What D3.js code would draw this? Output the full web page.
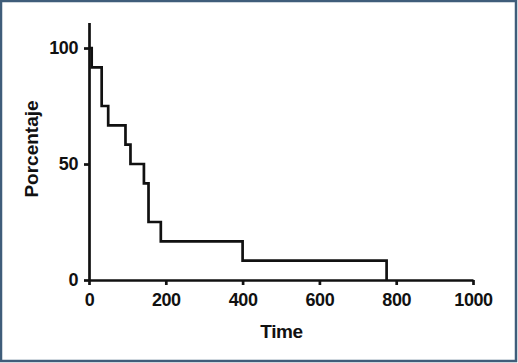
<!DOCTYPE html>
<html>

<head>
    <meta charset="utf-8">
    <script src="https://d3js.org/d3.v7.min.js"></script>
    <style>
        body { margin: 0; background: #fff; }
        svg text {
            font-family: "Liberation Sans", Arial, sans-serif;
            font-weight: bold;
            fill: #111;
        }
    </style>
</head>

<body>
    <div id="chart"></div>
    <script>
        // survival steps
        const times = [0, 7, 33, 50, 95, 108, 143, 155, 187, 400, 775];
        const percent = [100, 91.67, 75, 66.67, 58.33, 50, 41.67, 25, 16.67, 8.33, 0];
        const xTicks = [0, 200, 400, 600, 800, 1000];
        const yTicks = [0, 50, 100];

        const W = 518, H = 363;

        const svg = d3.select("#chart")
            .append("svg")
            .attr("width", W)
            .attr("height", H);

        // frame
        svg.append("rect")
            .attr("x", 1).attr("y", 1)
            .attr("width", W - 3).attr("height", H - 3)
            .attr("fill", "#fff")
            .attr("stroke", "#3f5d7a")
            .attr("stroke-width", 2.5);

        const x = d3.scaleLinear().domain([0, 1000]).range([89, 473]);
        const y = d3.scaleLinear().domain([0, 111]).range([280, 22.5]);

        // X axis
        const gx = svg.append("g")
            .attr("transform", `translate(0, ${y(0)})`)
            .call(d3.axisBottom(x).tickValues(xTicks).tickFormat(d3.format("d"))
                .tickSize(5).tickSizeOuter(0).tickPadding(8));

        // Y axis
        const gy = svg.append("g")
            .attr("transform", `translate(${x(0)}, 0)`)
            .call(d3.axisLeft(y).tickValues(yTicks).tickSize(5).tickSizeOuter(0).tickPadding(6));

        [gx, gy].forEach(g => {
            g.selectAll("path, line").attr("stroke", "#111").attr("stroke-width", 2.7);
            g.selectAll("text").style("font-size", "18px").attr("fill", "#111")
                .style("letter-spacing", "-0.4px");
        });

        // survival curve
        const data = times.map((t, i) => ({ t: t, p: percent[i] }));
        svg.append("path")
            .datum(data)
            .attr("fill", "none")
            .attr("stroke", "#111")
            .attr("stroke-width", 2.7)
            .attr("d", d3.line()
                .curve(d3.curveStepAfter)
                .x(d => x(d.t))
                .y(d => y(d.p)));

        // axis titles
        svg.append("text")
            .attr("x", 281.5).attr("y", 338)
            .attr("text-anchor", "middle")
            .style("font-size", "19px")
            .style("letter-spacing", "-0.4px")
            .text("Time");

        svg.append("text")
            .attr("transform", "translate(38, 149) rotate(-90)")
            .attr("text-anchor", "middle")
            .style("font-size", "19px")
            .text("Porcentaje");
    </script>
</body>

</html>
